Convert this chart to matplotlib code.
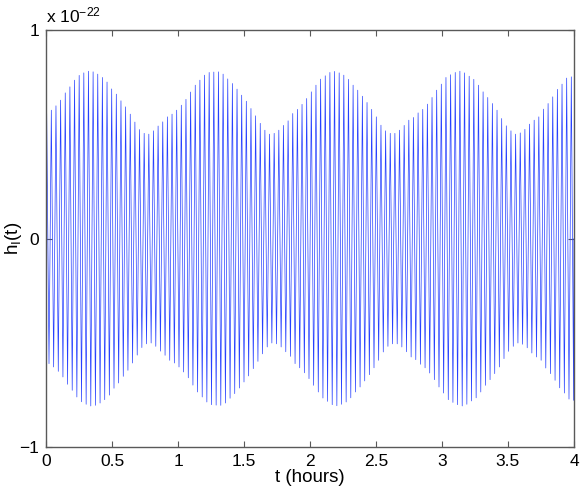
import numpy as np
import matplotlib.pyplot as plt

plt.rcParams['font.family'] = ['Liberation Sans', 'DejaVu Sans']
plt.rcParams['mathtext.default'] = 'regular'

# peak amplitude of each carrier cycle (units of 1e-22)
peaks = [0.600, 0.616, 0.637, 0.664, 0.699, 0.728, 0.760, 0.783, 0.795, 0.803,
         0.800, 0.789, 0.773, 0.751, 0.718, 0.693, 0.661, 0.632, 0.597, 0.559,
         0.523, 0.505, 0.501, 0.517, 0.540, 0.560, 0.584, 0.597, 0.616, 0.640,
         0.668, 0.703, 0.736, 0.760, 0.784, 0.797, 0.799, 0.800, 0.789,
         0.766, 0.744, 0.717, 0.688, 0.659, 0.624, 0.589, 0.553, 0.520, 0.501,
         0.505, 0.520, 0.543, 0.565, 0.600, 0.620, 0.644, 0.672, 0.704,
         0.736, 0.765, 0.781, 0.797, 0.802, 0.795, 0.784, 0.764, 0.736, 0.712,
         0.683, 0.653, 0.620, 0.584, 0.544, 0.517, 0.505, 0.505,
         0.520, 0.543, 0.568, 0.581, 0.603, 0.620, 0.645, 0.677, 0.712, 0.741,
         0.773, 0.786, 0.797, 0.803, 0.795, 0.779, 0.764, 0.736, 0.704,
         0.677, 0.648, 0.616, 0.576, 0.541, 0.517, 0.501, 0.507, 0.524, 0.549,
         0.568, 0.584, 0.621, 0.648, 0.680, 0.716, 0.741, 0.770, 0.776]
t_first = 0.005   # hours, first crest
t_last = 3.98     # hours, last crest

n = len(peaks)
tc = np.linspace(t_first, t_last, n)
dt = tc[1] - tc[0]

# zigzag crest -> trough for each cycle
t = [0.0]
h = [0.0]
for k in range(n):
    t += [tc[k], tc[k] + dt / 2]
    h += [peaks[k], -peaks[k]]
t.append(4.0)
h.append(0.0)

fig = plt.figure(figsize=(5.84, 4.91), dpi=100)
ax = fig.add_axes([0.0788, 0.0896, 0.904, 0.849])
ax.plot(t, h, color=(0.15, 0.25, 1.0), lw=0.5)

ax.set_xlim(0, 4)
ax.set_ylim(-1, 1)
ax.set_xticks(np.arange(0, 4.01, 0.5))
ax.set_xticklabels(['0', '0.5', '1', '1.5', '2', '2.5', '3', '3.5', '4'])
ax.set_yticks([-1, 0, 1])
ax.set_yticklabels(['\u22121', '0', '1'])
ax.tick_params(direction='in', top=True, right=True, length=4, width=0.8,
               color='0.35', labelsize=12.5, pad=5)
for s in ax.spines.values():
    s.set_color('0.35')
    s.set_linewidth(1.0)

ax.set_xlabel('t (hours)', fontsize=13.5, labelpad=0)
ax.set_ylabel('h$_I$(t)', fontsize=13.5)
ax.yaxis.set_label_coords(-0.042, 0.5)
ax.text(0.0, 1.012, 'x 10$^{-22}$', transform=ax.transAxes, fontsize=12.5,
        ha='left', va='bottom')

fig.savefig('out.png', dpi=100)
